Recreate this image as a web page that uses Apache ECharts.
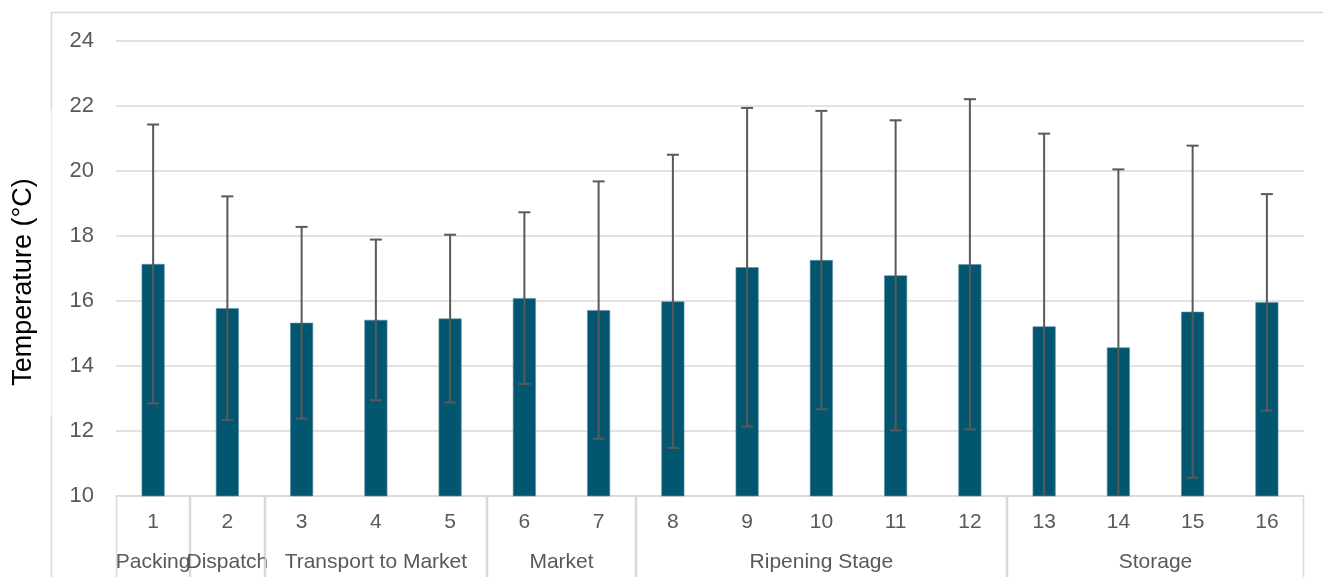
<!DOCTYPE html>
<html>
<head>
<meta charset="utf-8">
<script src="https://cdn.jsdelivr.net/npm/echarts@6/dist/echarts.min.js"></script>
<style>
  html, body { margin: 0; padding: 0; background: #ffffff; }
  #chart { width: 1323px; height: 577px; }
</style>
</head>
<body>
<div id="chart"></div>
<script>
// Sampling points along the supply chain
const points = ['1', '2', '3', '4', '5', '6', '7', '8', '9', '10', '11', '12', '13', '14', '15', '16'];
// Mean temperature (°C) at each point
const meanTemp = [17.14, 15.78, 15.33, 15.42, 15.46, 16.09, 15.72, 15.99, 17.04, 17.26, 16.79, 17.13, 15.22, 14.57, 15.67, 15.96];
// Standard deviation (°C) shown as error bars
const sdTemp = [4.29, 3.44, 2.95, 2.47, 2.58, 2.64, 3.96, 4.51, 4.90, 4.59, 4.77, 5.08, 5.93, 5.48, 5.11, 3.33];
// Supply-chain stages: name, first point index, last point index
const stageNames = ['Packing', 'Dispatch', 'Transport to Market', 'Market', 'Ripening Stage', 'Storage'];
const stageStart = [0, 1, 2, 5, 7, 12];
const stageEnd = [0, 1, 4, 6, 11, 15];
// Value axis ticks
const yMin = 10, yMax = 24, yStep = 2;

const FONT = '"Liberation Sans", Arial, sans-serif';
const GRID_COLOR = '#d9d9d9';
const LABEL_COLOR = '#595959';

const errData = points.map((p, i) => [i, meanTemp[i] - sdTemp[i], meanTemp[i] + sdTemp[i]]);
const stageData = stageNames.map((n, i) => [stageStart[i], stageEnd[i]]);

const chart = echarts.init(document.getElementById('chart'), null, { renderer: 'canvas' });

chart.setOption({
  animation: false,
  backgroundColor: '#ffffff',
  graphic: [
    // outer frame of the chart area
    { type: 'line', shape: { x1: 51, y1: 12.5, x2: 1323, y2: 12.5 }, style: { stroke: GRID_COLOR, lineWidth: 1.5 }, z: 0 },
    { type: 'line', shape: { x1: 51.5, y1: 12, x2: 51.5, y2: 110 }, style: { stroke: GRID_COLOR, lineWidth: 1.5 }, z: 0 },
    { type: 'line', shape: { x1: 51.5, y1: 110, x2: 51.5, y2: 415 }, style: { stroke: '#eeeeee', lineWidth: 1.5 }, z: 0 },
    { type: 'line', shape: { x1: 51.5, y1: 415, x2: 51.5, y2: 577 }, style: { stroke: GRID_COLOR, lineWidth: 1.5 }, z: 0 },
    {
      type: 'text', rotation: Math.PI / 2,
      style: { text: 'Temperature (°C)', fill: '#000000', font: '27px ' + FONT, textAlign: 'center', textVerticalAlign: 'middle' },
      x: 24, y: 282, z: 5
    }
  ],
  grid: { left: 116, right: 19, top: 41, bottom: 81, containLabel: false },
  xAxis: {
    type: 'category',
    data: points,
    axisLine: { show: true, lineStyle: { color: GRID_COLOR, width: 1.5 } },
    axisTick: { show: false },
    axisLabel: { color: LABEL_COLOR, fontFamily: FONT, fontSize: 21, margin: 16 },
    splitLine: { show: false }
  },
  yAxis: {
    type: 'value',
    min: yMin, max: yMax, interval: yStep,
    axisLine: { show: false },
    axisTick: { show: false },
    axisLabel: { color: LABEL_COLOR, fontFamily: FONT, fontSize: 22, margin: 22 },
    splitLine: { show: true, lineStyle: { color: GRID_COLOR, width: 1.5 } }
  },
  series: [
    {
      name: 'Mean temperature',
      type: 'bar',
      data: meanTemp,
      barWidth: 23,
      itemStyle: { color: '#02566f', borderColor: '#5d93a8', borderWidth: 0.6 },
      z: 2
    },
    {
      name: 'Standard deviation',
      type: 'custom',
      data: errData,
      clip: true,
      z: 3,
      encode: { x: 0, y: [1, 2] },
      renderItem: function (params, api) {
        const i = api.value(0);
        const lo = api.coord([i, api.value(1)]);
        const hi = api.coord([i, api.value(2)]);
        const cap = 6;
        const st = { stroke: '#595959', lineWidth: 2 };
        return {
          type: 'group',
          children: [
            { type: 'line', shape: { x1: hi[0], y1: hi[1], x2: lo[0], y2: lo[1] }, style: st },
            { type: 'line', shape: { x1: hi[0] - cap, y1: hi[1], x2: hi[0] + cap, y2: hi[1] }, style: st },
            { type: 'line', shape: { x1: lo[0] - cap, y1: lo[1], x2: lo[0] + cap, y2: lo[1] }, style: st }
          ]
        };
      }
    },
    {
      name: 'Stages',
      type: 'custom',
      data: stageData,
      clip: false,
      silent: true,
      z: 4,
      encode: { x: [0, 1] },
      renderItem: function (params, api) {
        const s = api.value(0), e = api.value(1);
        const bw = api.size([1, 0])[0];
        const ps = api.coord([s, yMin]);
        const pe = api.coord([e, yMin]);
        const xl = Math.round(ps[0] - bw / 2) + 0.5;
        const xr = Math.round(pe[0] + bw / 2) - 0.5;
        const y0 = ps[1];
        const ln = { stroke: GRID_COLOR, lineWidth: 1.5 };
        return {
          type: 'group',
          children: [
            { type: 'line', shape: { x1: xl, y1: y0, x2: xl, y2: y0 + 90 }, style: ln },
            { type: 'line', shape: { x1: xr, y1: y0, x2: xr, y2: y0 + 90 }, style: ln },
            {
              type: 'text',
              style: {
                x: (ps[0] + pe[0]) / 2, y: y0 + 66,
                text: stageNames[params.dataIndex],
                fill: LABEL_COLOR, font: '21px ' + FONT,
                textAlign: 'center', textVerticalAlign: 'middle'
              }
            }
          ]
        };
      }
    }
  ]
});
</script>
</body>
</html>
